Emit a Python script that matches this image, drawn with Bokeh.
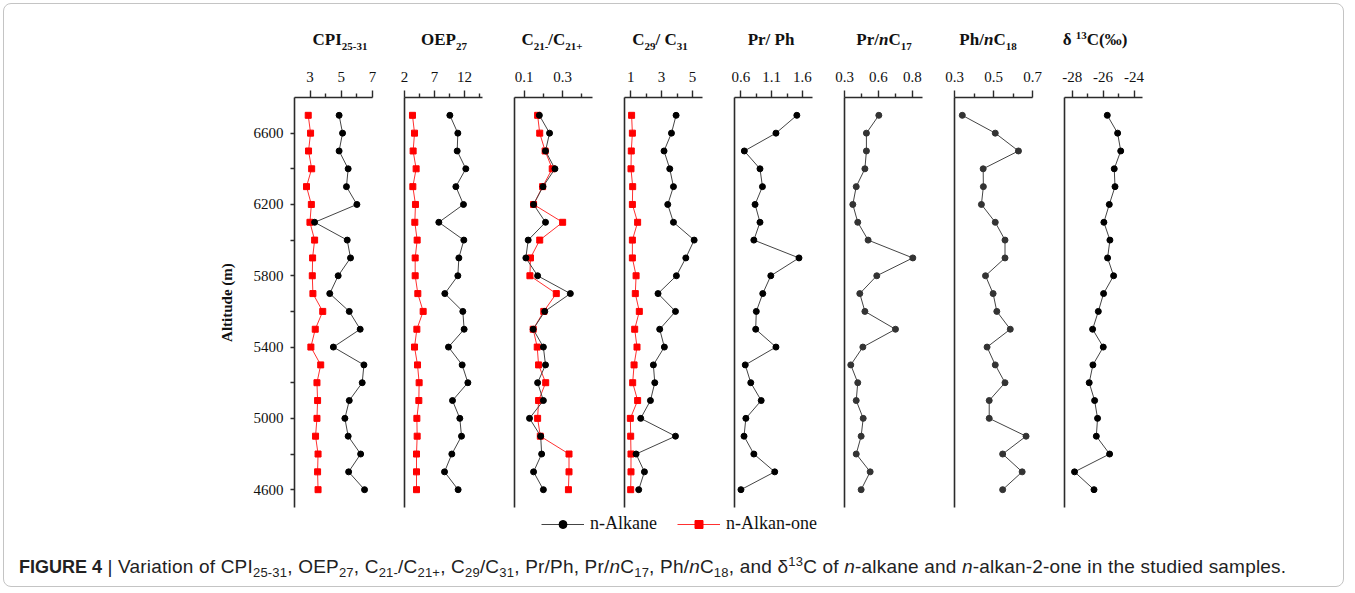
from bokeh.plotting import figure
from bokeh.models import Range1d, FixedTicker, Div, Spacer, Legend, LegendItem
from bokeh.layouts import row, column
from bokeh.embed import file_html
from bokeh.resources import INLINE

# ---------------- data ----------------
altitude = [6700, 6600, 6500, 6400, 6300, 6200, 6100, 6000, 5900, 5800, 5700,
            5600, 5500, 5400, 5300, 5200, 5100, 5000, 4900, 4800, 4700, 4600]

cpi_alkane = [4.86, 5.08, 4.86, 5.44, 5.33, 6.00, 3.29, 5.38, 5.59, 4.80, 4.26,
              5.51, 6.21, 4.49, 6.45, 6.34, 5.51, 5.23, 5.44, 6.24, 5.47, 6.49]
cpi_alkanone = [2.88, 3.03, 2.90, 3.10, 2.77, 3.08, 2.99, 3.29, 3.16, 3.14, 3.18,
                3.81, 3.33, 3.05, 3.68, 3.44, 3.48, 3.44, 3.35, 3.51, 3.48, 3.51]

oep_alkane = [9.56, 10.89, 10.78, 12.22, 10.56, 11.83, 7.72, 11.89, 11.06, 10.89, 8.72,
              11.72, 11.94, 9.33, 11.61, 12.56, 10.00, 11.22, 11.50, 9.89, 8.67, 10.94]
oep_alkanone = [3.33, 3.67, 3.44, 3.94, 3.39, 3.83, 3.72, 4.11, 3.78, 3.78, 4.22,
                5.11, 4.06, 3.67, 4.17, 4.44, 4.39, 4.06, 4.11, 4.00, 4.00, 4.00]

c21_alkane = [0.179, 0.232, 0.211, 0.260, 0.198, 0.149, 0.211, 0.121, 0.109, 0.170, 0.340,
              0.207, 0.147, 0.200, 0.211, 0.170, 0.200, 0.128, 0.186, 0.191, 0.149, 0.200]
c21_alkanone = [0.170, 0.181, 0.209, 0.246, 0.196, 0.149, 0.300, 0.181, 0.133, 0.130, 0.267,
                0.202, 0.147, 0.168, 0.175, 0.212, 0.175, 0.170, 0.184, 0.333, 0.333, 0.330]

c29_alkane = [3.94, 3.64, 3.16, 3.53, 3.77, 3.40, 3.77, 5.11, 4.57, 3.96, 2.77,
              3.90, 2.88, 3.18, 2.47, 2.56, 2.28, 1.65, 3.90, 1.35, 1.89, 1.52]
c29_alkanone = [1.06, 1.11, 1.04, 1.02, 1.13, 1.11, 1.45, 1.11, 1.11, 1.35, 1.30,
                1.56, 1.26, 1.41, 1.22, 1.13, 1.45, 0.98, 1.00, 1.02, 1.02, 1.00]

pr_ph = [1.51, 1.17, 0.655, 0.91, 0.95, 0.83, 0.91, 0.81, 1.545, 1.086, 0.955,
         0.85, 0.84, 1.17, 0.67, 0.76, 0.93, 0.68, 0.65, 0.81, 1.15, 0.60]
pr_nc17 = [0.602, 0.529, 0.529, 0.520, 0.469, 0.449, 0.478, 0.539, 0.802, 0.590, 0.490,
           0.520, 0.700, 0.508, 0.437, 0.478, 0.469, 0.510, 0.498, 0.469, 0.551, 0.498]
ph_nc18 = [0.340, 0.509, 0.628, 0.447, 0.448, 0.438, 0.509, 0.559, 0.559, 0.459, 0.498,
           0.517, 0.586, 0.467, 0.509, 0.559, 0.478, 0.478, 0.667, 0.547, 0.647, 0.547]
d13c = [-25.73, -25.06, -24.86, -25.28, -25.23, -25.60, -25.95, -25.56, -25.71, -25.32, -25.97,
        -26.31, -26.68, -25.99, -26.66, -26.90, -26.55, -26.36, -26.44, -25.58, -27.85, -26.59]

altitude_ticks = [4600, 5000, 5400, 5800, 6200, 6600]
altitude_minor = [4800, 5200, 5600, 6000, 6400]

SUB = '<span style="font-size:11px;position:relative;top:5px">%s</span>'
SUP = '<span style="font-size:11px;position:relative;top:-6px">%s</span>'
titles = [
    'CPI' + SUB % '25-31',
    'OEP' + SUB % '27',
    'C' + SUB % '21-' + '/C' + SUB % '21+',
    'C' + SUB % '29' + '/ C' + SUB % '31',
    'Pr/ Ph',
    'Pr/<i>n</i>C' + SUB % '17',
    'Ph/<i>n</i>C' + SUB % '18',
    '&delta; ' + SUP % '13' + 'C(&permil;)',
]
title_shift = [7, 1, -1, -3, -2, 1, -5, -8]

panels = [
    dict(rng=(2, 7), major=[3, 5, 7], minor=[4, 6], alk=cpi_alkane, one=cpi_alkanone, over={}),
    dict(rng=(2, 15), major=[2, 7, 12], minor=[4.5, 9.5, 14.5], alk=oep_alkane, one=oep_alkanone, over={}),
    dict(rng=(0.05, 0.455), major=[0.1, 0.3], minor=[0.2, 0.4], alk=c21_alkane, one=c21_alkanone, over={}),
    dict(rng=(0.6, 5.65), major=[1, 3, 5], minor=[2, 4], alk=c29_alkane, one=c29_alkanone, over={}),
    dict(rng=(0.495, 1.765), major=[0.6, 1.1, 1.6], minor=[0.85, 1.35], alk=pr_ph, one=None, over={}),
    dict(rng=(0.4, 0.859), major=[0.4, 0.6, 0.8], minor=[0.5, 0.7], alk=pr_nc17, one=None, over={0.4: "0.3"}),
    dict(rng=(0.3, 0.7), major=[0.3, 0.5, 0.7], minor=[0.4, 0.6], alk=ph_nc18, one=None, over={}),
    dict(rng=(-28.5, -23.45), major=[-28, -26, -24], minor=[-27, -25], alk=d13c, one=None,
         over={-28: "-28", -26: "-26", -24: "-24"}),
]

SERIF = "Liberation Serif"
AX = "#2b2b2b"
y_range = Range1d(4500, 6800)

figs = []
for i, pd_ in enumerate(panels):
    first = i == 0
    p = figure(width=384 if first else 110, height=461,
               x_range=Range1d(*pd_["rng"]), y_range=y_range,
               x_axis_location="above", toolbar_location=None, output_backend="svg",
               min_border_left=290 if first else 16, min_border_right=16,
               min_border_top=46, min_border_bottom=5)
    p.outline_line_color = None
    p.grid.visible = False
    p.background_fill_color = "white"
    p.border_fill_color = "white"

    xa = p.xaxis[0]
    xa.ticker = FixedTicker(ticks=pd_["major"], minor_ticks=pd_["minor"])
    if pd_["over"]:
        xa.major_label_overrides = pd_["over"]
    xa.axis_line_color = AX
    xa.axis_line_width = 1.6
    xa.major_tick_line_color = AX
    xa.major_tick_line_width = 1.4
    xa.minor_tick_line_color = AX
    xa.minor_tick_line_width = 1.4
    xa.major_tick_out = 7
    xa.major_tick_in = 0
    xa.minor_tick_out = 4
    xa.minor_tick_in = 0
    xa.major_label_standoff = 9
    xa.major_label_text_font = SERIF
    xa.major_label_text_font_size = "15px"
    xa.major_label_text_color = "#111111"

    ya = p.yaxis[0]
    ya.axis_line_color = AX
    ya.axis_line_width = 1.6
    if first:
        ya.ticker = FixedTicker(ticks=altitude_ticks, minor_ticks=altitude_minor)
        ya.major_tick_out = 4
        ya.major_tick_in = 0
        ya.minor_tick_out = 4
        ya.minor_tick_in = 0
        ya.major_tick_line_color = AX
        ya.minor_tick_line_color = AX
        ya.major_tick_line_width = 1.4
        ya.minor_tick_line_width = 1.4
        ya.major_label_text_font = SERIF
        ya.major_label_text_font_size = "15px"
        ya.major_label_text_color = "#111111"
        ya.major_label_standoff = 7
        ya.axis_label = "Altitude (m)"
        ya.axis_label_text_font = SERIF
        ya.axis_label_text_font_size = "15px"
        ya.axis_label_text_font_style = "bold"
        ya.axis_label_text_color = "#111111"
        ya.axis_label_standoff = 16
    else:
        ya.ticker = FixedTicker(ticks=[])
        ya.major_tick_out = 0
        ya.minor_tick_out = 0

    dark = "#000000" if i < 5 or i == 7 else "#333333"
    if pd_["one"] is not None:
        p.line(x=pd_["one"], y=altitude, line_color="#ff3030", line_width=1)
        p.scatter(x=pd_["one"], y=altitude, marker="square", size=6,
                  fill_color="#ff0000", line_color="#ff0000")
    p.line(x=pd_["alk"], y=altitude, line_color="#444444", line_width=1)
    p.scatter(x=pd_["alk"], y=altitude, marker="circle", size=6,
              fill_color=dark, line_color=dark)
    figs.append(p)

# ---------------- titles row ----------------
title_divs = [Spacer(width=274, height=47, margin=0)]
for t, dx in zip(titles, title_shift):
    html = ('<div style="width:110px;margin-top:26px;text-align:center;white-space:nowrap;'
            'font-family:\'Liberation Serif\';font-weight:bold;font-size:17px;line-height:20px;'
            'color:#111;position:relative;left:%dpx">%s</div>' % (dx, t))
    title_divs.append(Div(text=html, width=110, height=47, margin=0))
titles_row = row(*title_divs)

panels_row = row(*figs)

# ---------------- legend ----------------
# legend samples use the real series, kept outside the visible range of this strip
lp = figure(width=1339, height=24, x_range=Range1d(-100, -99), y_range=Range1d(0, 1),
            x_axis_location=None, y_axis_location=None, toolbar_location=None,
            output_backend="svg", min_border=0)
lp.outline_line_color = None
lp.grid.visible = False
r1 = lp.line(x=cpi_alkane, y=altitude, line_color="#444444", line_width=1)
r2 = lp.scatter(x=cpi_alkane, y=altitude, marker="circle", size=6, fill_color="black", line_color="black")
r3 = lp.line(x=cpi_alkanone, y=altitude, line_color="#ff3030", line_width=1)
r4 = lp.scatter(x=cpi_alkanone, y=altitude, marker="square", size=6, fill_color="#ff0000", line_color="#ff0000")
legend = Legend(items=[LegendItem(label="n-Alkane", renderers=[r1, r2]),
                       LegendItem(label="n-Alkan-one", renderers=[r3, r4])],
                orientation="horizontal", location=(537, 2),
                border_line_color=None, background_fill_alpha=0,
                label_text_font=SERIF, label_text_font_size="18px",
                label_text_color="#111111", label_height=20,
                glyph_width=43, glyph_height=20, spacing=20, padding=0, margin=0,
                label_standoff=6)
lp.add_layout(legend)

# ---------------- caption ----------------
csub = '<span style="font-size:13px;position:relative;top:4px">%s</span>'
csup = '<span style="font-size:13px;position:relative;top:-7px">%s</span>'
caption_html = (
    '<div style="margin-top:20px;margin-left:15px;white-space:nowrap;letter-spacing:0.2px;'
    'font-family:\'Liberation Sans\';font-size:19px;line-height:22px;color:#222;">'
    '<b style="font-size:18px;letter-spacing:0">FIGURE 4</b> | Variation of CPI' + csub % '25-31' + ', OEP' + csub % '27' +
    ', C' + csub % '21-' + '/C' + csub % '21+' + ', C' + csub % '29' + '/C' + csub % '31' +
    ', Pr/Ph, Pr/<i>n</i>C' + csub % '17' + ', Ph/<i>n</i>C' + csub % '18' +
    ', and &delta;' + csup % '13' + 'C of <i>n</i>-alkane and <i>n</i>-alkan-2-one in the studied samples.'
    '</div>')
caption = Div(text=caption_html, width=1339, height=50, margin=0)

layout = column(titles_row, panels_row, lp, caption,
                styles={"border": "1px solid #c4c4c4", "border-radius": "8px", "margin": "3px"})

open("out.html", "w").write(file_html(layout, INLINE))
